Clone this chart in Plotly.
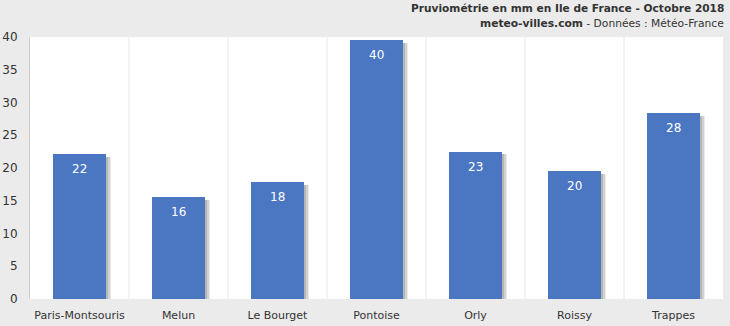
import plotly.graph_objects as go

stations = ["Paris-Montsouris", "Melun", "Le Bourget", "Pontoise", "Orly", "Roissy", "Trappes"]
rain_mm = [22.1, 15.5, 17.8, 39.5, 22.5, 19.5, 28.4]
y_ticks = [0, 5, 10, 15, 20, 25, 30, 35, 40]

BAR_W = 0.545
BAR_COLOR = "#4a76c2"
FONT = "DejaVu Sans, Verdana, sans-serif"

fig = go.Figure()

# soft drop shadow on the right side of each bar
for shift, alpha in [(0.05, 0.10), (0.035, 0.14), (0.02, 0.18)]:
    fig.add_trace(go.Bar(
        x=stations, y=[v - 0.4 for v in rain_mm],
        width=BAR_W, offset=-BAR_W / 2 + shift,
        marker=dict(color=f"rgba(60,60,60,{alpha})", line=dict(width=0)),
        hoverinfo="skip", showlegend=False,
    ))

fig.add_trace(go.Bar(
    x=stations, y=rain_mm,
    width=BAR_W, offset=-BAR_W / 2,
    marker=dict(color=BAR_COLOR, line=dict(width=0)),
    showlegend=False,
))

# rounded value printed just under the top of each bar
for name, v in zip(stations, rain_mm):
    fig.add_annotation(
        x=name, y=v, text=str(int(v + 0.5)),
        yanchor="top", yshift=-6, showarrow=False,
        font=dict(family=FONT, size=12, color="white"),
    )

# category separators
for i in range(1, len(stations)):
    fig.add_vline(x=i - 0.5, line=dict(color="#e6e6e6", width=1), layer="below")

fig.update_layout(
    width=730, height=326,
    margin=dict(l=30, r=7, t=37, b=27),
    paper_bgcolor="#ebebeb", plot_bgcolor="white",
    barmode="overlay", bargap=0,
    font=dict(family=FONT, size=11, color="#333333"),
)
fig.add_annotation(
    text="<b>Pruviométrie en mm en Ile de France - Octobre 2018</b>",
    xref="paper", yref="paper", x=1.004, y=1, yshift=37,
    xanchor="right", yanchor="top", showarrow=False,
    font=dict(family=FONT, size=10.6, color="#333333"),
)
fig.add_annotation(
    text="<b>meteo-villes.com</b> - Données : Météo-France",
    xref="paper", yref="paper", x=1.004, y=1, yshift=22,
    xanchor="right", yanchor="top", showarrow=False,
    font=dict(family=FONT, size=10.7, color="#333333"),
)

fig.update_xaxes(
    type="category", range=[-0.5, len(stations) - 0.5],
    showgrid=False, showline=False, ticks="", zeroline=False,
    tickfont=dict(family=FONT, size=11, color="#333333"),
    ticklabelstandoff=8, automargin=False,
)
fig.update_yaxes(
    range=[0, 40], tickvals=y_ticks, showgrid=False, zeroline=False,
    showline=True, linecolor="#cccccc", linewidth=1, ticks="",
    tickfont=dict(family=FONT, size=12, color="#333333"),
    ticklabelstandoff=9, automargin=False,
)

fig.write_html("out.html")
